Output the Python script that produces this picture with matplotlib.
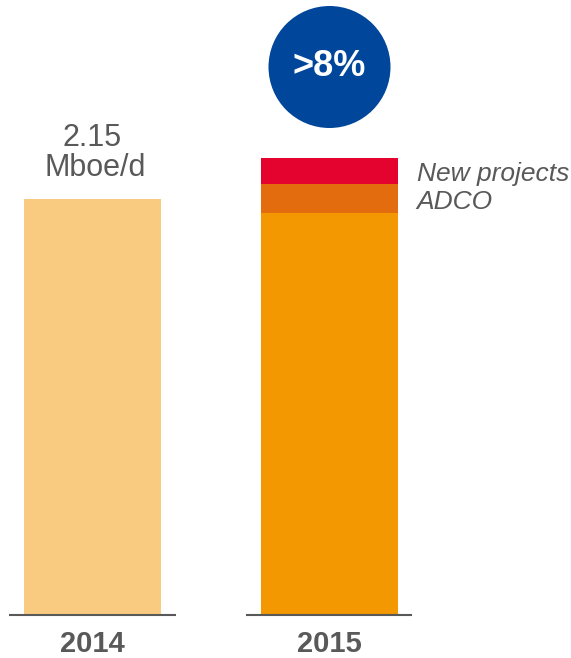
import matplotlib
matplotlib.use("Agg")
import matplotlib.pyplot as plt
from matplotlib.patches import Circle

# Production volumes (Mboe/d)
years = ["2014", "2015"]
base_values = [2.15, 2.08]
adco_values = [0.0, 0.15]
new_project_values = [0.0, 0.13]
segment_labels = ["ADCO", "New projects"]
value_label = ["2.15", "Mboe/d"]
growth_label = ">8%"

base_colors = ["#F9CB80", "#F39800"]
adco_color = "#E36C0E"
new_color = "#E4032E"
text_color = "#595959"
circle_color = "#00469A"

plt.rcParams["font.family"] = ["Liberation Sans", "DejaVu Sans"]

W, H, DPI = 571, 658, 100
fig = plt.figure(figsize=(W / DPI, H / DPI), dpi=DPI)
ax = fig.add_axes([0, 44 / H, 1, 614 / H])
ax.set_xlim(-0.391, 2.023)
ax.set_ylim(0, 3.181)
ax.axis("off")

x = [0, 1]
width = 0.579
ax.bar(x, base_values, width=width, color=base_colors, linewidth=0)
ax.bar(x, adco_values, width=width, bottom=base_values, color=adco_color, linewidth=0)
tops_adco = [b + a for b, a in zip(base_values, adco_values)]
ax.bar(x, new_project_values, width=width, bottom=tops_adco, color=new_color, linewidth=0)

# baseline under each bar
for xi in x:
    ax.plot([xi - 0.351, xi + 0.351], [-0.005, -0.005], color=text_color,
            lw=1.5, solid_capstyle="butt", clip_on=False)

# year labels
for xi, yr in zip(x, years):
    ax.annotate(yr, xy=(xi, 0), xytext=(0, -30 * 0.72), textcoords="offset points",
                ha="center", va="center", fontsize=21, fontweight="bold",
                color=text_color)

# value label above the 2014 bar
ax.annotate(value_label[0], xy=(0, base_values[0]), xytext=(0, 53 * 0.72),
            textcoords="offset points", ha="center", va="baseline",
            fontsize=22, color=text_color)
ax.annotate(value_label[1], xy=(0, base_values[0]), xytext=(2, 23 * 0.72),
            textcoords="offset points", ha="center", va="baseline",
            fontsize=22, color=text_color)

# segment labels right of the 2015 bar
right = 1 + width / 2
ax.annotate(segment_labels[1], xy=(right, tops_adco[1] + new_project_values[1] / 2),
            xytext=(19 * 0.72, 0), textcoords="offset points", ha="left",
            va="center_baseline", fontsize=19, style="italic", color=text_color)
ax.annotate(segment_labels[0], xy=(right, base_values[1] + adco_values[1] / 2),
            xytext=(19 * 0.72, -1 * 0.72), textcoords="offset points", ha="left",
            va="center_baseline", fontsize=19, style="italic", color=text_color)

# growth badge
cx, cy, r = 329.5 / DPI, (H - 67) / DPI, 61 / DPI
fig.patches.append(Circle((cx, cy), r, transform=fig.dpi_scale_trans,
                          facecolor=circle_color, edgecolor="none"))
fig.text(cx / (W / DPI), cy / (H / DPI), growth_label, ha="center", va="center",
         fontsize=26, fontweight="bold", color="white")

fig.savefig("out.png", dpi=DPI)
